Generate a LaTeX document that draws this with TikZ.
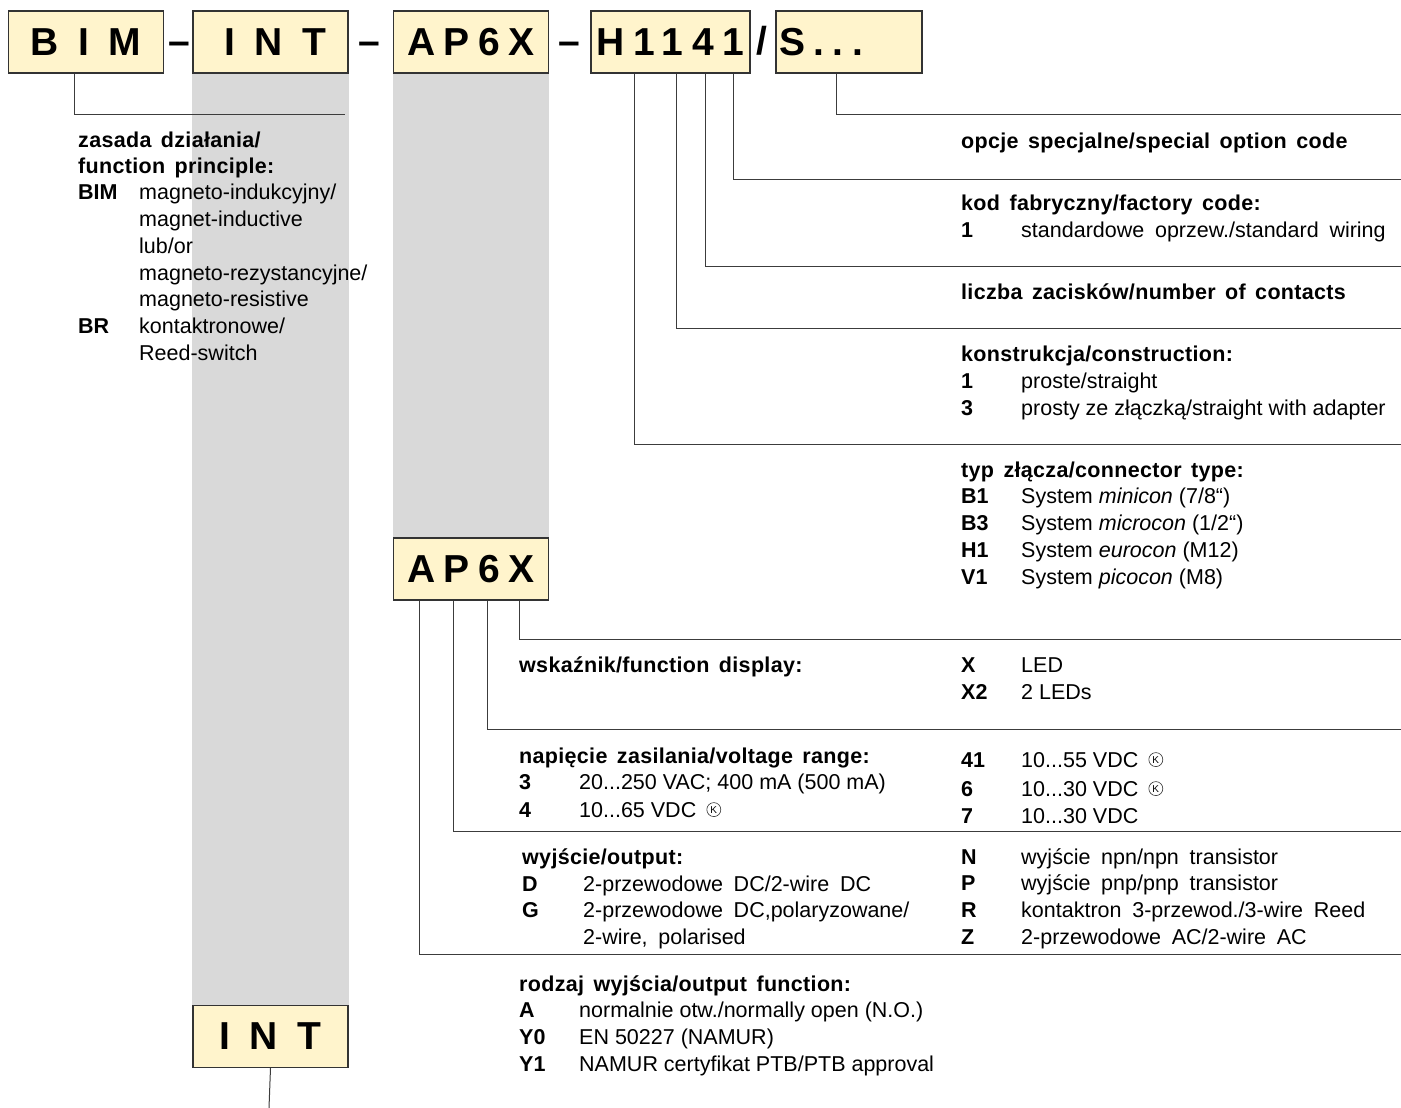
\documentclass[tikz,border=0pt]{standalone}
\usepackage{fontspec}
\setmainfont{Liberation Sans}
\newfontfamily\headfont{Liberation Sans}[LetterSpace=1.5,WordSpace=1.5]
\newfontfamily\widefont{Liberation Sans}[WordSpace=1.8]
\newfontfamily\codefont{Liberation Sans}[LetterSpace=22]
\usetikzlibrary{positioning}
\definecolor{boxFill}{RGB}{255,244,204}
\definecolor{colGrey}{RGB}{217,217,217}
\definecolor{lineGrey}{RGB}{60,60,60}

\begin{document}
\begin{tikzpicture}[x=1pt, y=-1pt,
  codebox/.style={draw=black!80, line width=1.1pt, fill=boxFill, minimum width=155, minimum height=62,
    inner sep=0pt, font=\codefont\bfseries\fontsize{39}{39}\selectfont},
  sep/.style={anchor=base, inner sep=0pt, font=\bfseries\fontsize{39}{39}\selectfont},
  conn/.style={draw=lineGrey, line width=1pt},
  head/.style={anchor=base west, inner sep=0pt, font=\headfont\bfseries\fontsize{21.5}{26}\selectfont},
  key/.style={anchor=base west, inner sep=0pt, font=\bfseries\fontsize{21.5}{26}\selectfont},
  val/.style={anchor=base west, inner sep=0pt, font=\fontsize{21.5}{26}\selectfont},
  kmark/.style={circle, draw=black!80, line width=.6pt, inner sep=0pt, minimum size=14, font=\fontsize{10}{10}\selectfont}
]
\useasboundingbox (0,0) rectangle (1401,1108);

% type code in the top row
\node[codebox] (bim) at (86,42) {B I M};
\node[sep] (d1) at (179,55) {–};
\node[codebox] (int) at (270.5,42) {\hspace{10pt}I N T};
\node[sep] (d2) at (369,55) {–};
\node[codebox] (ap) at (471,42) {AP6X};
\node[sep] (d3) at (569,55) {–};
\node[codebox, minimum width=159] (h) at (670.5,42) {H1141};
\node[sep] (sl) at (762,55) {/};
\node[codebox, minimum width=146, text width=140, align=left] (s) at (849,42) {S...};

% exploded parts
\node[codebox] (ap2) at (471,569) {AP6X};
\node[codebox] (int2) at (270.5,1036.5) {I N T};

\fill[colGrey] (int.south west) rectangle (int2.north east);
\fill[colGrey] (ap.south west) rectangle (ap2.north east);

% free ends of the connectors
\coordinate (eBim) at (345,114);
\coordinate (eS) at (1401,114);
\coordinate (eCode) at (1401,179);
\coordinate (eCont) at (1401,266);
\coordinate (eConstr) at (1401,328);
\coordinate (eConn) at (1401,444);
\coordinate (eDisp) at (1401,639);
\coordinate (eVolt) at (1401,729);
\coordinate (eOut) at (1401,831);
\coordinate (eFunc) at (1401,954);
\coordinate (eInt) at (269,1108);

\draw[conn] (bim.south west) ++(67,0) |- (eBim);
\draw[conn] (s.south west) ++(61,0) |- (eS);
\draw[conn] (h.south west) ++(143,0) |- (eCode);
\draw[conn] (h.south west) ++(115,0) |- (eCont);
\draw[conn] (h.south west) ++(86,0) |- (eConstr);
\draw[conn] (h.south west) ++(44,0) |- (eConn);
\draw[conn] (ap2.south west) ++(127,0) |- (eDisp);
\draw[conn] (ap2.south west) ++(95,0) |- (eVolt);
\draw[conn] (ap2.south west) ++(61,0) |- (eOut);
\draw[conn] (ap2.south west) ++(27,0) |- (eFunc);
\draw[conn] (int2.south) -- (eInt);

% function principle
\node[head] (lh1) at (78,147) {zasada działania/};
\node[head] (lh2) at (78,173) {function principle:};
\node[key] (lkBim) at (78,199) {BIM};
\node[key] (lkBr) at (78,333) {BR};
\foreach \t/\y [count=\i] in {
  {magneto-indukcyjny/}/199,
  {magnet-inductive}/226,
  {lub/or}/253,
  {magneto-rezystancyjne/}/280,
  {magneto-resistive}/306,
  {kontaktronowe/}/333,
  {Reed-switch}/360%
} {
  \node[val] (lv\i) at (139,\y) {\t};
}

% right column headings
\node[head] (rh1) at (961,148) {opcje specjalne/special option code};
\node[head] (rh2) at (961,210) {kod fabryczny/factory code:};
\node[head] (rh3) at (961,299) {liczba zacisków/number of contacts};
\node[head] (rh4) at (961,361) {konstrukcja/construction:};
\node[head] (rh5) at (961,477) {typ złącza/connector type:};

\foreach \k/\v/\y [count=\i] in {
  1/{\widefont standardowe oprzew./standard wiring}/237,
  1/{proste/straight}/388,
  3/{prosty ze złączką/straight with adapter}/415,
  B1/{System \textit{minicon} (7/8“)}/503,
  B3/{System \textit{microcon} (1/2“)}/530,
  H1/{System \textit{eurocon} (M12)}/557,
  V1/{System \textit{picocon} (M8)}/584,
  X/{LED}/672,
  X2/{2 LEDs}/699,
  41/{10...55 VDC}/767,
  6/{10...30 VDC}/796,
  7/{10...30 VDC}/823,
  N/{\widefont wyjście npn/npn transistor}/864,
  P/{\widefont wyjście pnp/pnp transistor}/890,
  R/{\widefont kontaktron 3-przewod./3-wire Reed}/917,
  Z/{\widefont 2-przewodowe AC/2-wire AC}/944%
} {
  \node[key] (rk\i) at (961,\y) {\k};
  \node[val] (rv\i) at (1021,\y) {\v};
}
\node[kmark, right=10pt of rv10] (k41) {K};
\node[kmark, right=10pt of rv11] (k6) {K};

% middle column
\node[head] (mh1) at (519,672) {wskaźnik/function display:};
\node[head] (mh2) at (519,763) {napięcie zasilania/voltage range:};
\node[key] (mk1) at (519,789) {3};
\node[val] (mv1) at (579,789) {20...250 VAC; 400 mA (500 mA)};
\node[key] (mk2) at (519,817) {4};
\node[val] (mv2) at (579,817) {10...65 VDC};
\node[kmark, right=10pt of mv2] (k4) {K};

\node[head] (oh1) at (522,864) {wyjście/output:};
\node[key] (ok1) at (522,891) {D};
\node[val] (ov1) at (583,891) {\widefont 2-przewodowe DC/2-wire DC};
\node[key] (ok2) at (522,917) {G};
\node[val] (ov2) at (583,917) {\widefont 2-przewodowe DC,polaryzowane/};
\node[val] (ov3) at (583,944) {\widefont 2-wire, polarised};

\node[head] (fh1) at (519,991) {rodzaj wyjścia/output function:};
\foreach \k/\v/\y [count=\i] in {
  A/{normalnie otw./normally open (N.O.)}/1017,
  Y0/{EN 50227 (NAMUR)}/1044,
  Y1/{NAMUR certyfikat PTB/PTB approval}/1071%
} {
  \node[key] (fk\i) at (519,\y) {\k};
  \node[val] (fv\i) at (579,\y) {\v};
}
\end{tikzpicture}
\end{document}
